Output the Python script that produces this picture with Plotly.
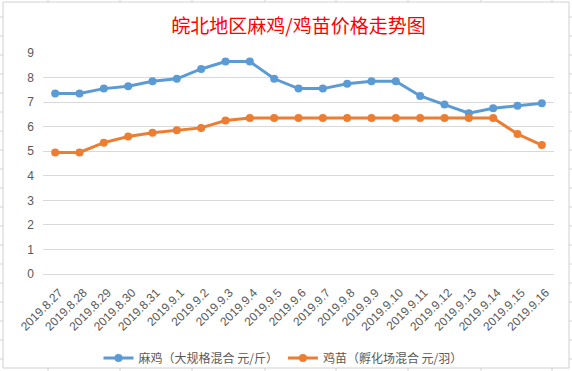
import plotly.graph_objects as go

dates = ["2019.8.27", "2019.8.28", "2019.8.29", "2019.8.30", "2019.8.31", "2019.9.1", "2019.9.2",
         "2019.9.3", "2019.9.4", "2019.9.5", "2019.9.6", "2019.9.7", "2019.9.8", "2019.9.9",
         "2019.9.10", "2019.9.11", "2019.9.12", "2019.9.13", "2019.9.14", "2019.9.15", "2019.9.16"]
maji = [7.35, 7.35, 7.55, 7.65, 7.85, 7.95, 8.35, 8.65, 8.65, 7.95, 7.55, 7.55, 7.75, 7.85,
        7.85, 7.25, 6.9, 6.55, 6.75, 6.85, 6.95]
jimiao = [4.95, 4.95, 5.35, 5.6, 5.75, 5.85, 5.95, 6.25, 6.35, 6.35, 6.35, 6.35, 6.35, 6.35,
          6.35, 6.35, 6.35, 6.35, 6.35, 5.7, 5.25]
y_ticks = [0, 1, 2, 3, 4, 5, 6, 7, 8, 9]

W, H = 572, 371
L, R, T, B = 43, 18, 53, 97
PW, PH = W - L - R, H - T - B


def px(x):
    return (x - L) / PW


def py(y):
    return (H - B - y) / PH


fig = go.Figure()
fig.add_trace(go.Scatter(x=dates, y=maji, mode="lines+markers", name="麻鸡（大规格混合 元/斤）",
                         line=dict(color="#5B9BD5", width=3), marker=dict(size=8, color="#5B9BD5")))
fig.add_trace(go.Scatter(x=dates, y=jimiao, mode="lines+markers", name="鸡苗（孵化场混合 元/羽）",
                         line=dict(color="#ED7D31", width=3), marker=dict(size=8, color="#ED7D31")))

shapes = []
# spreadsheet background grid
for gx in [48, 120, 192, 265, 336, 408, 481, 552]:
    shapes.append(dict(type="line", xref="paper", yref="paper", x0=px(gx), x1=px(gx), y0=py(0), y1=py(H),
                       line=dict(color="#d4d4d4", width=1), layer="below"))
for gy in [-2, 17, 36, 55, 74, 93, 112, 131, 150, 169, 188, 207, 226, 245, 264, 283, 302, 321, 340, 359]:
    shapes.append(dict(type="line", xref="paper", yref="paper", x0=px(0), x1=px(W), y0=py(gy), y1=py(gy),
                       line=dict(color="#d4d4d4", width=1), layer="below"))
# chart area
shapes.append(dict(type="rect", xref="paper", yref="paper", x0=px(3), x1=px(569), y0=py(368), y1=py(2),
                   fillcolor="white", line=dict(color="#d0d0d0", width=1), layer="below"))

fig.update_layout(
    width=W, height=H,
    margin=dict(l=L, r=R, t=T, b=B, autoexpand=False),
    paper_bgcolor="white", plot_bgcolor="white",
    font=dict(family="Noto Sans CJK SC, Liberation Sans, sans-serif", color="#595959", size=12),
    title=dict(text="皖北地区麻鸡/鸡苗价格走势图", x=0.5, xref="paper", xanchor="center",
               y=1 - 26 / H, yanchor="middle", automargin=False,
               font=dict(family="Noto Sans CJK SC", size=19, color="#FF0000")),
    xaxis=dict(type="category", range=[-0.5, len(dates) - 0.5], tickangle=-45, automargin=False,
               showgrid=False, showline=True, linecolor="#d9d9d9", ticks="",
               ticklabelstandoff=6, ticklabelshift=4,
               tickfont=dict(family="Liberation Sans", size=12, color="#595959")),
    yaxis=dict(range=[0, 9], tickvals=y_ticks, showgrid=True, gridcolor="#d9d9d9", zeroline=True,
               zerolinecolor="#d9d9d9", showline=False, ticks="", ticklabelstandoff=8, automargin=False,
               tickfont=dict(family="Liberation Sans", size=12, color="#595959")),
    legend=dict(orientation="h", x=px(283), xanchor="center", y=py(358), yanchor="middle",
                font=dict(family="Noto Sans CJK SC", size=12, color="#595959"), bgcolor="rgba(0,0,0,0)"),
    shapes=shapes,
    showlegend=True,
)

fig.write_html("out.html", config={"displayModeBar": False},
               post_script="document.body.style.margin='0';document.body.style.overflow='hidden';")
